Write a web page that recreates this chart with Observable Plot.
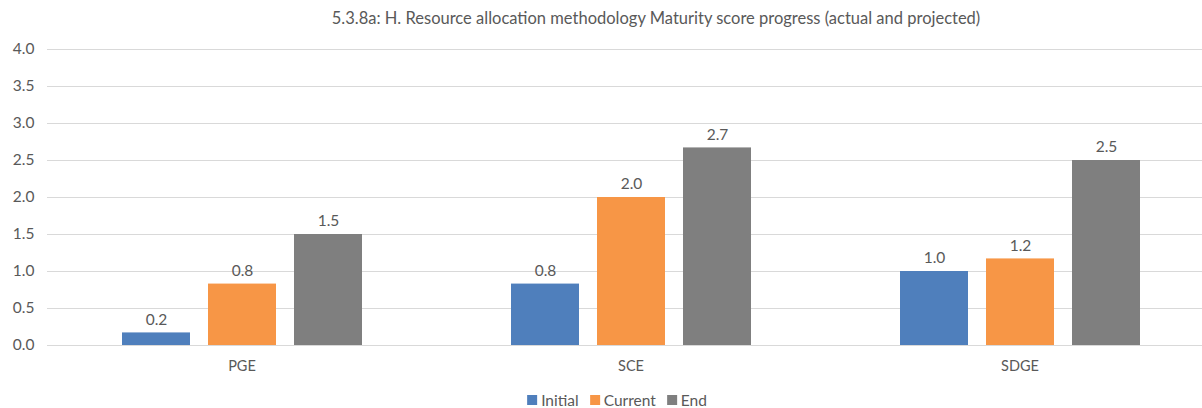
<!DOCTYPE html>
<html>
<head>
<meta charset="utf-8">
<script src="https://cdn.jsdelivr.net/npm/d3@7"></script>
<script src="https://cdn.jsdelivr.net/npm/@observablehq/plot@0.6"></script>
<style>
  html, body { margin: 0; padding: 0; background: #fff; overflow: hidden; }
  body { width: 1202px; height: 408px; position: relative; font-family: Lato, "Open Sans", sans-serif; color: #595959; }
  #title { position: absolute; top: 8px; left: 656px; transform: translateX(-50%); white-space: nowrap; font-size: 16.5px; }
  #chart { position: absolute; top: 36px; left: 0; }
  #legend { position: absolute; top: 391px; left: 617px; transform: translateX(-50%); white-space: nowrap; font-size: 15.5px; display: flex; gap: 11px; align-items: center; }
  .item { display: flex; align-items: center; gap: 4px; }
  .sw { width: 10px; height: 10px; display: inline-block; }
</style>
</head>
<body>
<div id="title"></div>
<div id="chart"></div>
<div id="legend"></div>
<script>
const titleText = "5.3.8a: H. Resource allocation methodology Maturity score progress (actual and projected)";
const groups = ["PGE", "SCE", "SDGE"];
const series = ["Initial", "Current", "End"];
const initialValues = [0.17, 0.83, 1.0];
const currentValues = [0.83, 2.0, 1.17];
const endValues = [1.5, 2.67, 2.5];
const colors = ["#4F7FBC", "#F79646", "#7F7F7F"];
const yTicks = [0, 0.5, 1.0, 1.5, 2.0, 2.5, 3.0, 3.5, 4.0];

const valuesBySeries = [initialValues, currentValues, endValues];
const data = [];
groups.forEach((g, gi) => {
  series.forEach((s, si) => {
    data.push({group: g, series: s, value: valuesBySeries[si][gi]});
  });
});

document.getElementById("title").textContent = titleText;

const fmt = d3.format(".1f");
const textColor = "#595959";

const chart = Plot.plot({
  width: 1202,
  height: 350,
  marginTop: 13,
  marginBottom: 41,
  marginLeft: 47,
  marginRight: -12,
  style: {fontFamily: "Lato, 'Open Sans', sans-serif", color: textColor, background: "transparent", overflow: "visible"},
  fx: {domain: groups, padding: 0, label: null},
  x: {domain: series, paddingInner: 0.21, paddingOuter: 0.86, axis: null},
  y: {domain: [0, 4], label: null},
  color: {domain: series, range: colors},
  marks: [
    Plot.ruleY(yTicks, {stroke: "#D9D9D9", strokeWidth: 1}),
    Plot.barY(data, {fx: "group", x: "series", y: "value", fill: "series"}),
    Plot.text(data, {fx: "group", x: "series", y: "value", text: d => fmt(d.value), dy: -13, fontSize: 15.5, fill: textColor}),
    Plot.axisY({ticks: yTicks, tickFormat: fmt, tickSize: 0, tickPadding: 13, fontSize: 15.5, label: null, fill: textColor}),
    Plot.axisFx({anchor: "bottom", tickSize: 0, tickPadding: 15, fontSize: 14.5, label: null, fill: textColor})
  ]
});
document.getElementById("chart").appendChild(chart);

const legend = document.getElementById("legend");
series.forEach((s, i) => {
  const item = document.createElement("span");
  item.className = "item";
  const sw = document.createElement("span");
  sw.className = "sw";
  sw.style.background = colors[i];
  const lab = document.createElement("span");
  lab.textContent = s;
  item.appendChild(sw);
  item.appendChild(lab);
  legend.appendChild(item);
});
</script>
</body>
</html>
